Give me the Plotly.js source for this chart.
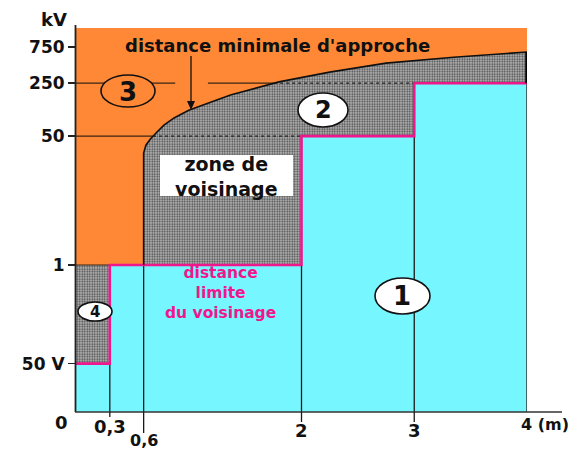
<!DOCTYPE html>
<html><head><meta charset="utf-8">
<script src="https://cdn.plot.ly/plotly-3.0.1.min.js"></script>
<style>html,body{margin:0;padding:0;background:#fff;}</style>
</head><body><div id="chart" style="width:571px;height:451px;"></div>
<script>
// ---------- data ----------
const bandLowerKV = [0.05, 1, 50, 250];      // voltage bands (kV): 50 V, 1 kV, 50 kV, 250 kV
const limitDistM  = [0.3, 2, 3, 4];          // distance limite du voisinage (m) per band
const curveDistM  = [0.6, 0.6, 0.62, 0.66, 0.71, 0.78, 0.87, 1.0, 1.37, 1.8, 2.25, 2.75, 3.35, 3.95, 4.0];
const curveKV     = [1, 30, 38, 46, 55, 70, 87, 110, 175, 260, 350, 460, 550, 625, 645];
const yTickKV     = [0.05, 1, 50, 250, 750];
const yTickText   = ['50 V', '1', '50', '250', '750'];
const xTickM      = [0.3, 0.6, 2, 3];
const xTickText   = ['0,3', '0,6', '2', '3'];
const refLevelsKV = [50, 250];

// ---------- helpers ----------
const W = 571, H = 451, L = 76, R = 44, T = 28, B = 39;
const pw = W - L - R, ph = H - T - B;
const px = p => (p - L) / pw;            // pixel -> paper x
const py = p => (H - B - p) / ph;        // pixel -> paper y
const yRange = [Math.log10(0.0115), Math.log10(1336)];
const yBot = Math.pow(10, yRange[0]) * 0.5;

const ORANGE = '#ff8836', CYAN = '#76f7ff', MAG = '#f0168c', DARK = '#1a1a1a';
const FONT = 'DejaVu Sans';

// step line of the limit distance
const stepX = [0], stepY = [bandLowerKV[0]];
for (let i = 0; i < limitDistM.length; i++) {
  stepX.push(limitDistM[i]); stepY.push(bandLowerKV[i]);
  if (i + 1 < bandLowerKV.length) { stepX.push(limitDistM[i]); stepY.push(bandLowerKV[i + 1]); }
}
// curve crossing at a given kV (log interpolation)
function curveAt(kv) {
  for (let i = 1; i < curveKV.length; i++) {
    if (curveKV[i] >= kv && curveKV[i - 1] <= kv) {
      const a = Math.log10(curveKV[i - 1]), b = Math.log10(curveKV[i]), t = (Math.log10(kv) - a) / (b - a);
      return curveDistM[i - 1] + t * (curveDistM[i] - curveDistM[i - 1]);
    }
  }
  return curveDistM[0];
}

const pattern = {shape: '.', bgcolor: '#bcbcbc', fgcolor: '#4a4a4a', size: 2.5, solidity: 0.45};
const traces = [];
// zone 1 (cyan)
traces.push({x: [0].concat(stepX, [stepX[stepX.length - 1]]), y: [yBot].concat(stepY, [yBot]),
  mode: 'lines', fill: 'toself', fillcolor: CYAN, line: {width: 0}, hoverinfo: 'skip'});
// zone 4
traces.push({x: [0, limitDistM[0], limitDistM[0], 0], y: [bandLowerKV[0], bandLowerKV[0], bandLowerKV[1], bandLowerKV[1]],
  mode: 'lines', fill: 'toself', fillpattern: pattern, fillcolor: '#bcbcbc', line: {width: 0}, hoverinfo: 'skip'});
// zone 2
const z2x = curveDistM.concat(stepX.slice(3).reverse());
const z2y = curveKV.concat(stepY.slice(3).reverse());
traces.push({x: z2x, y: z2y, mode: 'lines', fill: 'toself', fillpattern: pattern, fillcolor: '#bcbcbc',
  line: {width: 0}, hoverinfo: 'skip'});
// vertical lines through cyan
const vx = [], vy = [];
limitDistM.forEach((d, i) => { vx.push(d, d, null); vy.push(yBot, bandLowerKV[i], null); });
vx.push(curveDistM[0], curveDistM[0], null); vy.push(yBot, curveKV[0], null);
traces.push({x: vx, y: vy, mode: 'lines', line: {color: DARK, width: 1.3}, hoverinfo: 'skip'});
// reference level lines: solid in orange (gap at the arrow), dotted in grey zone
const sx = [], sy = [], dx = [], dy = [];
refLevelsKV.forEach((kv, k) => {
  const c = curveAt(kv);
  if (k === 1) { sx.push(0, 0.88, null, 1.17, c, null); sy.push(kv, kv, null, kv, kv, null); }
  else { sx.push(0, c, null); sy.push(kv, kv, null); }
  const end = k === 0 ? limitDistM[1] : limitDistM[3];
  dx.push(c, end, null); dy.push(kv, kv, null);
});
sx.push(0, limitDistM[0], null); sy.push(bandLowerKV[1], bandLowerKV[1], null);
traces.push({x: sx, y: sy, mode: 'lines', line: {color: '#3a2412', width: 1.2}, hoverinfo: 'skip'});
traces.push({x: dx, y: dy, mode: 'lines', line: {color: '#222', width: 1.3, dash: 'dot'}, hoverinfo: 'skip'});
// magenta step
traces.push({x: stepX, y: stepY, mode: 'lines', line: {color: MAG, width: 2.6}, hoverinfo: 'skip'});
// curve (distance minimale d'approche)
traces.push({x: curveDistM, y: curveKV, mode: 'lines', line: {color: '#111', width: 1.6}, hoverinfo: 'skip'});
// thick edge at the end of the curve
const last = curveDistM.length - 1;
traces.push({x: [curveDistM[last], curveDistM[last]], y: [bandLowerKV[3], curveKV[last]], mode: 'lines',
  line: {color: '#000', width: 3.5}, hoverinfo: 'skip'});

// ---------- shapes ----------
const shapes = [];
shapes.push({type: 'line', xref: 'paper', yref: 'paper', x0: px(75.5), x1: px(75.5), y0: 0, y1: py(25), line: {color: '#222', width: 1.8}});
shapes.push({type: 'line', xref: 'paper', yref: 'paper', x0: px(75), x1: px(562), y0: 0, y1: 0, line: {color: '#333', width: 1.6}});
const extBelow = [417, 433, 422, 422];
xTickM.forEach((d, i) => shapes.push({type: 'line', xref: 'x', yref: 'paper', x0: d, x1: d, y0: 0, y1: py(extBelow[i]), line: {color: DARK, width: 1.3}}));
// white box for "zone de voisinage"
shapes.push({type: 'rect', xref: 'paper', yref: 'paper', x0: px(160), x1: px(293), y0: py(155), y1: py(196), fillcolor: '#fff', line: {width: 0}});
// ellipses
const ell = (x0, x1, y0, y1, fill) => shapes.push({type: 'circle', xref: 'paper', yref: 'paper', x0: px(x0), x1: px(x1), y0: py(y0), y1: py(y1), fillcolor: fill, line: {color: '#111', width: 1.6}});
ell(101, 155, 75, 107, ORANGE);
ell(298, 348, 93, 127, '#fff');
ell(375, 430, 278, 314, '#fff');
ell(78, 112, 302, 321, '#fff');
// arrow
shapes.push({type: 'line', xref: 'paper', yref: 'paper', x0: px(191), x1: px(191), y0: py(56), y1: py(103), line: {color: '#111', width: 1.3}});
shapes.push({type: 'path', xref: 'paper', yref: 'paper',
  path: `M ${px(187)} ${py(101)} L ${px(195)} ${py(101)} L ${px(191)} ${py(110)} Z`, fillcolor: '#111', line: {width: 0}});

// ---------- annotations ----------
const ann = [];
const a = (text, x, y, size, color, o) => ann.push(Object.assign({text, xref: 'paper', yref: 'paper', x: px(x), y: py(y),
  showarrow: false, xanchor: 'center', yanchor: 'middle', font: {family: FONT, size, color: color || '#111', weight: 'bold'}}, o || {}));
a('kV', 54, 19, 18);
a('0', 61, 422, 18);
const xLabY = [426, 440, 430, 430], xLabSize = [18, 16, 18, 18];
xTickM.forEach((d, i) => ann.push({text: xTickText[i], xref: 'x', yref: 'paper', x: d, y: py(xLabY[i]),
  showarrow: false, xanchor: 'center', yanchor: 'middle', font: {family: FONT, size: xLabSize[i], color: '#111', weight: 'bold'}}));
ann.push({text: '4 (m)', xref: 'x', yref: 'paper', x: limitDistM[3], xshift: -8, y: py(424), showarrow: false,
  xanchor: 'left', yanchor: 'middle', font: {family: FONT, size: 16, color: '#111', weight: 'bold'}});
a("distance minimale d'approche", 277, 45, 18);
a('zone de<br>voisinage', 226, 176, 19);
a('distance<br>limite<br>du voisinage', 220, 293, 15.5, MAG);
a('3', 128, 92, 26);
a('2', 323, 110, 24);
a('1', 402, 296, 26);
a('4', 95, 312, 15);

const layout = {
  width: W, height: H, margin: {l: L, r: R, t: T, b: B},
  paper_bgcolor: '#fff', plot_bgcolor: ORANGE, showlegend: false,
  xaxis: {range: [0, 4], showgrid: false, zeroline: false, showticklabels: false, showline: false, ticks: '', fixedrange: true},
  yaxis: {type: 'log', range: yRange, showgrid: false, zeroline: false, showline: false,
    tickvals: yTickKV, ticktext: yTickText, ticks: 'outside', ticklen: 7, tickwidth: 1.5, tickcolor: '#222',
    tickfont: {family: FONT, size: 17, color: '#111', weight: 'bold'}, fixedrange: true},
  shapes, annotations: ann
};
Plotly.newPlot('chart', traces, layout, {displayModeBar: false, staticPlot: true});
</script></body></html>
